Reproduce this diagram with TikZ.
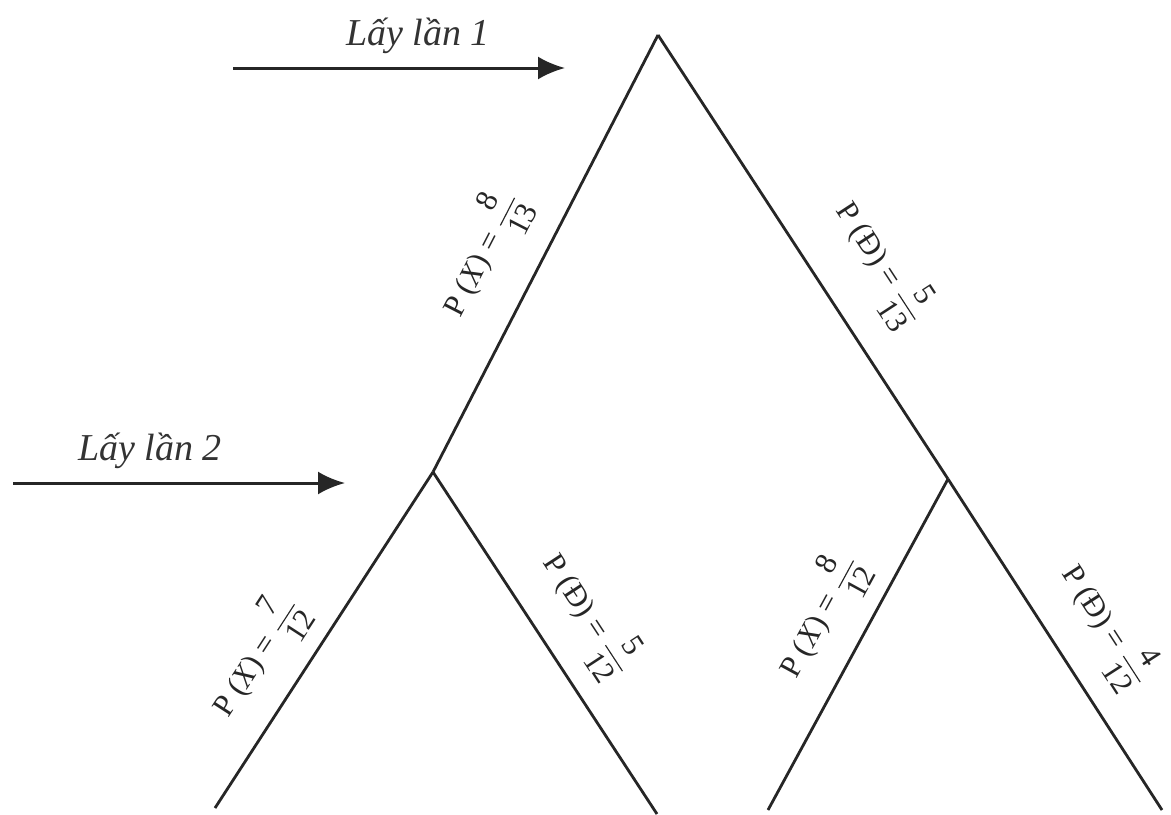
\documentclass[tikz,border=0pt]{standalone}
\usepackage{amsmath}
\usepackage{fontspec}
\setmainfont{Liberation Serif}
\usetikzlibrary{arrows.meta}

\begin{document}
\begin{tikzpicture}[x=0.5pt, y=-0.5pt, >={Latex[length=13.5pt,width=11.5pt]},
  nhanh/.style={line width=1.4pt, black!85},
  muiten/.style={->, line width=1.5pt, black!85},
  xacsuat/.style={sloped, font=\fontsize{15.5}{18}\selectfont, inner sep=0pt},
  buoc/.style={font=\fontsize{19}{22}\selectfont\itshape, anchor=base, black!80}]

\useasboundingbox (0,0) rectangle (1171,814);

% cac diem cua cay
\coordinate (goc) at (658,35);   % goc
\coordinate (X1) at (433,472);   % lan 1 ra bi xanh
\coordinate (D1) at (948,479);   % lan 1 ra bi do
\coordinate (XX) at (215,808);
\coordinate (XD) at (657,814);
\coordinate (DX) at (768,810);
\coordinate (DD) at (1162,810);

% lay lan 1
\draw[nhanh] (X1) -- (goc) node[xacsuat, pos=0.44, yshift=27.9pt] (pX1) {P (\textit{X}) = $\dfrac{\text{8}}{\text{13}}$};
\draw[nhanh] (goc) -- (D1) node[xacsuat, pos=0.59, yshift=31.2pt] (pD1) {P (Đ) = $\dfrac{\text{5}}{\text{13}}$};

% lay lan 2
\draw[nhanh] (XX) -- (X1) node[xacsuat, pos=0.373, yshift=23.5pt] (pXX) {P (\textit{X}) = $\dfrac{\text{7}}{\text{12}}$};
\draw[nhanh] (X1) -- (XD) node[xacsuat, pos=0.5, yshift=26.1pt] (pXD) {P (Đ) = $\dfrac{\text{5}}{\text{12}}$};
\draw[nhanh] (DX) -- (D1) node[xacsuat, pos=0.518, yshift=23.5pt] (pDX) {P (\textit{X}) = $\dfrac{\text{8}}{\text{12}}$};
\draw[nhanh] (D1) -- (DD) node[xacsuat, pos=0.53, yshift=27pt] (pDD) {P (Đ) = $\dfrac{\text{4}}{\text{12}}$};

% mui ten chi cac lan lay
\coordinate (a1) at (233,68);
\coordinate (b1) at (565,68);
\coordinate (a2) at (13,483);
\coordinate (b2) at (345,483);
\draw[muiten] (a1) -- (b1);
\draw[muiten] (a2) -- (b2);
\node[buoc] (lan1) at (418,45) {Lấy lần 1};
\node[buoc] (lan2) at (150,460) {Lấy lần 2};

\end{tikzpicture}
\end{document}
